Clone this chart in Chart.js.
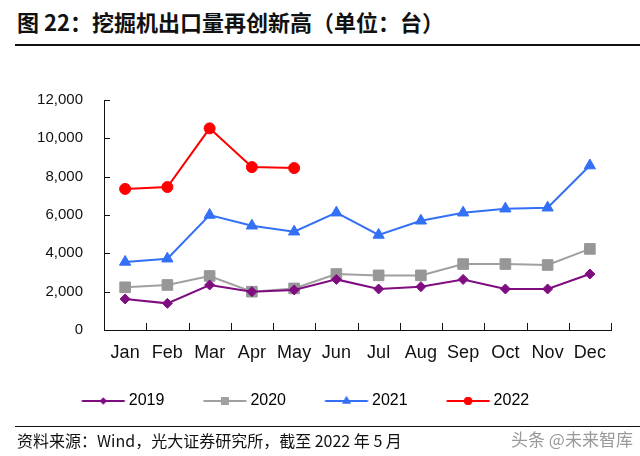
<!DOCTYPE html>
<html>
<head>
<meta charset="utf-8">
<script src="https://cdn.jsdelivr.net/npm/chart.js@4"></script>
<style>
  body { margin: 0; background: #fff; }
  #wrap { position: relative; width: 640px; height: 456px; overflow: hidden; }
  #title { position: absolute; left: 17px; top: 5px; font: bold 22px "Noto Sans CJK SC", sans-serif; color: #111; white-space: nowrap; }
  #topline { position: absolute; left: 15px; right: 0; top: 44px; border-top: 2px solid #111; }
  #botline { position: absolute; left: 15px; right: 0; top: 426px; border-top: 1.5px solid #111; }
  #source { position: absolute; left: 17px; top: 428px; font: 16px "Noto Sans CJK SC", sans-serif; color: #111; white-space: nowrap; }
  #mark { position: absolute; left: 511px; top: 426px; font: 17px "Noto Sans CJK SC", sans-serif; color: #999; white-space: nowrap; }
  #chartbox { position: absolute; left: 0; top: 0; width: 640px; height: 456px; }
</style>
</head>
<body>
<div id="wrap">
  <div id="title">图 22：挖掘机出口量再创新高（单位：台）</div>
  <div id="topline"></div>
  <div id="chartbox"><canvas id="chart1"></canvas></div>
  <div id="botline"></div>
  <div id="source">资料来源：Wind，光大证券研究所，截至 2022 年 5 月</div>
  <div id="mark">头条 @未来智库</div>
</div>
<script>
// month labels
const months = ['Jan', 'Feb', 'Mar', 'Apr', 'May', 'Jun', 'Jul', 'Aug', 'Sep', 'Oct', 'Nov', 'Dec'];

// excavator exports per month (units)
const exports2019 = [1620, 1390, 2350, 2000, 2090, 2640, 2140, 2260, 2640, 2140, 2140, 2920];
const exports2020 = [2230, 2350, 2820, 2000, 2170, 2920, 2850, 2850, 3440, 3440, 3390, 4230];
const exports2021 = [3550, 3720, 6000, 5440, 5130, 6120, 4960, 5700, 6120, 6330, 6380, 8580];
const exports2022 = [7360, 7460, 10520, 8500, 8450];

const yTicks = [0, 2000, 4000, 6000, 8000, 10000, 12000];

const fontFamily = '"Liberation Sans", Arial, sans-serif';

// legend icon: line with the marker in the middle
// (canvas is wider than the legend box so the line ends close to the text)
const makeIcon = (color, style, r) => {
  const c = document.createElement('canvas');
  c.width = 60;
  c.height = 14;
  const ctx = c.getContext('2d');
  ctx.strokeStyle = color;
  ctx.fillStyle = color;
  ctx.lineWidth = 2;
  ctx.beginPath();
  ctx.moveTo(15.5, 7);
  ctx.lineTo(58.5, 7);
  ctx.stroke();
  Chart.helpers.drawPoint(ctx, { pointStyle: style, radius: r, borderWidth: 0, rotation: 0 }, 37, 7);
  ctx.fill();
  return c;
};

const series = [
  { label: '2019', data: exports2019, color: '#7F0D80', style: 'rectRot', r: 5, legendR: 3.5 },
  { label: '2020', data: exports2020, color: '#A0A0A0', style: 'rect', r: 7.5, legendR: 5.5 },
  { label: '2021', data: exports2021, color: '#3370F6', style: 'triangle', r: 6.5, legendR: 5 },
  { label: '2022', data: exports2022, color: '#FF0000', style: 'circle', r: 5.5, legendR: 4 },
];

const chartdata1 = {
  labels: months,
  datasets: series.map((s) => ({
    label: s.label,
    data: s.data,
    borderColor: s.color,
    backgroundColor: s.color,
    borderWidth: 2,
    tension: 0,
    pointStyle: s.style,
    pointRadius: s.r,
    pointBorderWidth: 1,
    pointBackgroundColor: s.color === '#A0A0A0' ? '#979797' : s.color,
    pointBorderColor: s.color === '#A0A0A0' ? '#979797' : s.color,
  })),
};

// small tick marks drawn inside the axes, like the original
const innerTicks = {
  id: 'innerTicks',
  afterDraw(chart) {
    const { ctx, chartArea, scales } = chart;
    ctx.save();
    ctx.strokeStyle = '#111';
    ctx.lineWidth = 1;
    ctx.beginPath();
    scales.y.ticks.forEach((t, i) => {
      const y = Math.round(scales.y.getPixelForTick(i)) + 0.5;
      ctx.moveTo(chartArea.left, y);
      ctx.lineTo(chartArea.left + 6, y);
    });
    const half = (scales.x.getPixelForValue(1) - scales.x.getPixelForValue(0)) / 2;
    for (let i = 0; i <= months.length; i++) {
      const x = Math.round(scales.x.getPixelForValue(i) - half) + 0.5;
      ctx.moveTo(x, chartArea.bottom);
      ctx.lineTo(x, chartArea.bottom - 7);
    }
    ctx.stroke();
    ctx.restore();
  },
};

const chartconfig1 = {
  type: 'line',
  data: chartdata1,
  plugins: [innerTicks],
  options: {
    responsive: true,
    maintainAspectRatio: false,
    animation: false,
    // negative left padding only shifts the centred legend; y axis width keeps the plot at x=104
    layout: { padding: { left: -10, right: 29, top: 100, bottom: 37 } },
    scales: {
      x: {
        offset: true,
        grid: { display: false, drawTicks: false },
        border: { display: true, color: '#111', width: 1 },
        ticks: { color: '#111', padding: 12, font: { family: fontFamily, size: 18 } },
        afterFit: (scale) => { scale.height = 34; },
      },
      y: {
        min: 0,
        max: 12000,
        afterBuildTicks: (scale) => { scale.ticks = yTicks.map((v) => ({ value: v })); },
        grid: { display: false, drawTicks: false },
        border: { display: true, color: '#111', width: 1 },
        ticks: { color: '#111', padding: 21, font: { family: fontFamily, size: 15 } },
        afterFit: (scale) => { scale.width = 114; },
      },
    },
    plugins: {
      legend: {
        display: true,
        position: 'bottom',
        labels: {
          usePointStyle: true,
          pointStyleWidth: 49,
          padding: 29,
          color: '#111',
          font: { family: fontFamily, size: 16 },
          generateLabels: () => series.map((s, i) => ({
            text: s.label,
            pointStyle: makeIcon(s.color, s.style, s.legendR),
            fillStyle: s.color,
            strokeStyle: s.color,
            lineWidth: 0,
            hidden: false,
            datasetIndex: i,
          })),
        },
      },
      tooltip: { enabled: false },
      title: { display: false },
    },
  },
};

const chart1 = new Chart('chart1', chartconfig1);
</script>
</body>
</html>
